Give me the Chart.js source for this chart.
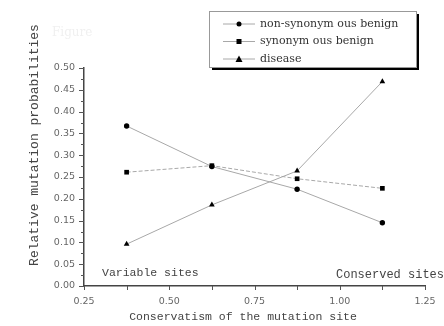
<!DOCTYPE html>
<html lang="en">
<head>
    <meta charset="UTF-8">
    <title>Relative mutation probabilities</title>
    <script src="https://cdn.jsdelivr.net/npm/chart.js"></script>
    <style>
        html, body { margin: 0; padding: 0; background: #fff; }
        #wrap { width: 444px; height: 326px; position: relative; }
    </style>
</head>
<body>
    <div id="wrap"><canvas id="mutChart"></canvas></div>
    <script>
        // values
        const conservation = [0.375, 0.625, 0.875, 1.125];
        const nonSynonymous = [0.367, 0.274, 0.222, 0.145];
        const synonymous = [0.261, 0.276, 0.246, 0.224];
        const disease = [0.096, 0.186, 0.264, 0.469];
        const seriesNames = ['non-synonym ous benign', 'synonym ous benign', 'disease'];
        const xTickLabels = [0.25, 0.50, 0.75, 1.00, 1.25];

        function pts(ys) {
            return conservation.map((x, i) => ({ x: x, y: ys[i] }));
        }

        const tickColor = '#555';

        // ticks, legend box and free text are drawn by hand
        const extras = {
            id: 'extras',
            afterDraw(chart) {
                const ctx = chart.ctx;
                const xs = chart.scales.x, ys = chart.scales.y;
                const area = chart.chartArea;
                ctx.save();
                ctx.strokeStyle = tickColor;
                ctx.lineWidth = 1;
                ctx.beginPath();
                ys.ticks.forEach(t => {
                    const y = Math.round(ys.getPixelForValue(t.value)) + 0.5;
                    const major = Math.abs(Math.round(t.value * 20) - t.value * 20) < 1e-6;
                    ctx.moveTo(area.left, y);
                    ctx.lineTo(area.left - (major ? 5 : 3), y);
                });
                xs.ticks.forEach(t => {
                    const x = Math.round(xs.getPixelForValue(t.value)) + 0.5;
                    ctx.moveTo(x, area.bottom);
                    ctx.lineTo(x, area.bottom + 4);
                });
                ctx.stroke();

                // axis titles
                ctx.fillStyle = '#444';
                ctx.font = '13px "Liberation Mono"';
                ctx.textAlign = 'center';
                ctx.textBaseline = 'middle';
                ctx.save();
                ctx.translate(35, 145);
                ctx.rotate(-Math.PI / 2);
                ctx.fillText('Relative mutation probabilities', 0, 0);
                ctx.restore();
                ctx.font = '11.5px "Liberation Mono"';
                ctx.fillText('Conservatism of the mutation site', 243, 317);

                // annotations in the plot
                ctx.font = '11.5px "Liberation Mono"';
                ctx.textAlign = 'left';
                ctx.fillText('Variable sites', 102, 273);
                ctx.textAlign = 'right';
                ctx.font = '12px "Liberation Mono"';
                ctx.fillText('Conserved sites', 444, 275);

                // faint heading
                ctx.textAlign = 'left';
                ctx.fillStyle = '#f0f0f0';
                ctx.font = '12px "DejaVu Serif"';
                ctx.fillText('Figure', 52, 33);

                // legend
                const bx = 209, by = 11, bw = 207, bh = 56;
                ctx.fillStyle = '#000';
                ctx.fillRect(bx + 3, by + bh, bw, 3);
                ctx.fillRect(bx + bw, by + 3, 3, bh);
                ctx.fillStyle = '#fff';
                ctx.fillRect(bx, by, bw, bh);
                ctx.strokeStyle = '#999';
                ctx.strokeRect(bx + 0.5, by + 0.5, bw, bh);
                chart.data.datasets.forEach((ds, i) => {
                    const y = 24 + i * 17.5;
                    ctx.strokeStyle = ds.borderColor;
                    ctx.setLineDash([]);
                    ctx.beginPath();
                    ctx.moveTo(223, y);
                    ctx.lineTo(255, y);
                    ctx.stroke();
                    ctx.fillStyle = '#000';
                    drawMarker(ctx, ds.pointStyle, 239, y);
                    ctx.fillStyle = '#333';
                    ctx.font = '11px "DejaVu Serif"';
                    ctx.textAlign = 'left';
                    ctx.textBaseline = 'middle';
                    ctx.fillText(ds.label, 260, y);
                });
                ctx.restore();
            }
        };

        function drawMarker(ctx, style, x, y) {
            ctx.beginPath();
            if (style === 'circle') {
                ctx.arc(x, y, 2.5, 0, Math.PI * 2);
            } else if (style === 'rect') {
                ctx.rect(x - 2.5, y - 2.5, 5, 5);
            } else {
                ctx.moveTo(x, y - 3.5);
                ctx.lineTo(x + 3.5, y + 3);
                ctx.lineTo(x - 3.5, y + 3);
                ctx.closePath();
            }
            ctx.fill();
        }

        function series(label, ys, style, dash) {
            return {
                label: label,
                data: pts(ys),
                borderColor: '#a8a8a8',
                borderWidth: 1,
                borderDash: dash,
                pointStyle: style,
                pointRadius: style === 'circle' ? 2.7 : 3.3,
                pointBackgroundColor: '#000',
                pointBorderColor: '#000',
                pointBorderWidth: 0,
                tension: 0
            };
        }

        new Chart(document.getElementById('mutChart'), {
            type: 'line',
            data: {
                datasets: [
                    series(seriesNames[0], nonSynonymous, 'circle', []),
                    series(seriesNames[1], synonymous, 'rect', [4, 2]),
                    series(seriesNames[2], disease, 'triangle', [])
                ]
            },
            options: {
                responsive: true,
                maintainAspectRatio: false,
                animation: false,
                layout: { padding: { top: 68, right: 19, left: 0, bottom: 0 } },
                plugins: { legend: { display: false }, tooltip: { enabled: false } },
                scales: {
                    x: {
                        type: 'linear',
                        min: 0.25,
                        max: 1.25,
                        grid: { display: false },
                        border: { display: true, color: '#444', width: 1.5 },
                        ticks: {
                            stepSize: 0.125,
                            autoSkip: false,
                            maxRotation: 0,
                            padding: 2,
                            color: '#666',
                            font: { family: 'DejaVu Sans', size: 9.5 },
                            callback: v => xTickLabels.some(t => Math.abs(t - v) < 1e-6) ? v.toFixed(2) : ''
                        },
                        afterFit: s => { s.height = 40; }
                    },
                    y: {
                        min: 0,
                        max: 0.5,
                        grid: { display: false },
                        border: { display: true, color: '#444', width: 1.5 },
                        ticks: {
                            stepSize: 0.025,
                            autoSkip: false,
                            padding: 1,
                            color: '#666',
                            font: { family: 'DejaVu Sans', size: 9.5 },
                            callback: v => Math.abs(Math.round(v * 20) - v * 20) < 1e-6 ? v.toFixed(2) : ''
                        },
                        afterFit: s => { s.width = 84; }
                    }
                }
            },
            plugins: [extras]
        });
    </script>
</body>
</html>
